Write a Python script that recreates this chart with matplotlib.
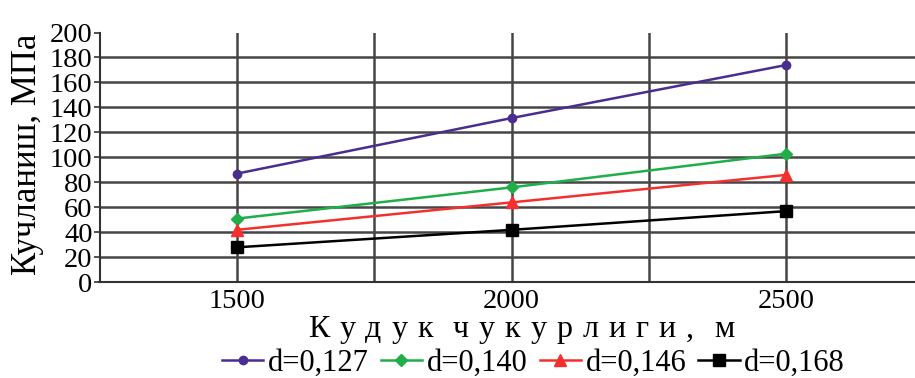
import matplotlib
matplotlib.use("Agg")
import matplotlib.pyplot as plt
from matplotlib.ticker import FixedLocator

# ---- data ----
depth = [1500, 2000, 2500]
d127 = [87, 131.5, 174]
d140 = [51, 76, 103]
d146 = [42, 64, 86]
d168 = [28, 42, 57]
series_labels = ["d=0,127", "d=0,140", "d=0,146", "d=0,168"]
xticks_major = [1500, 2000, 2500]
xticks_minor = [1750, 2250]
yticks = list(range(0, 201, 20))
xlabel = "Кудук чукурлиги, м"
ylabel = "Кучланиш, МПа"

W, H = 915, 378
SERIF = ["Liberation Serif", "DejaVu Serif"]
plt.rcParams["font.family"] = SERIF

fig = plt.figure(figsize=(W / 100, H / 100), dpi=100)
ax = fig.add_axes([99.5 / W, 1 - 282.3 / H, (915 - 99.5) / W, (282.3 - 32.5) / H])

ax.set_xlim(1250, 2734)
ax.set_ylim(0, 200)

gridc = "#454545"
ax.xaxis.set_major_locator(FixedLocator(xticks_major))
ax.xaxis.set_minor_locator(FixedLocator(xticks_minor))
ax.yaxis.set_major_locator(FixedLocator(yticks))
ax.grid(True, which="both", axis="x", color=gridc, lw=1.8)
ax.grid(True, which="major", axis="y", color=gridc, lw=1.8)
ax.set_axisbelow(True)
ylines = ax.yaxis.get_gridlines()
ylines[-1].set_visible(False)

ax.tick_params(axis="x", which="both", length=0, pad=5, labelsize=20.5)
ax.tick_params(axis="y", length=4, width=1.2, color="#333333", pad=1, labelsize=20.5)
ax.set_xticklabels([str(v) for v in xticks_major])
ax.set_yticklabels([str(v) for v in yticks])

for s in ["top", "right"]:
    ax.spines[s].set_visible(False)
for s in ["left", "bottom"]:
    ax.spines[s].set_color("#333333")
    ax.spines[s].set_linewidth(1.5)

styles = [
    (d127, "#4b2c8f", "o", 6.0),
    (d140, "#1fae4a", "D", 6.0),
    (d146, "#f4302e", "^", 9.0),
    (d168, "#000000", "s", 8.5),
]
handles = []
for (vals, c, m, ms), lab in zip(styles, series_labels):
    h, = ax.plot(depth, vals, color=c, lw=1.8, marker=m, ms=ms, label=lab, zorder=3, clip_on=False)
    handles.append(h)

leg = fig.legend(handles=handles, loc="center", bbox_to_anchor=(533.5 / W, 1 - 363 / H),
                 ncol=4, frameon=False, fontsize=22, handlelength=1.35, handletextpad=0.15,
                 columnspacing=0.4, borderpad=0, borderaxespad=0)

# y label
fig.text(27.5 / W, 1 - 154.5 / H, ylabel, rotation=90, ha="center", va="center", fontsize=25)

# x label with letter spacing
fig.canvas.draw()
r = fig.canvas.get_renderer()
fs = 23
track = 10.0
space_px = 0.0
base_y = 1 - 337 / H
widths = []
for ch in xlabel:
    if ch == " ":
        widths.append(None)
        continue
    t = fig.text(0, base_y, ch, fontsize=fs, va="baseline", ha="left")
    widths.append(t.get_window_extent(r).width)
    t.remove()
total = 0.0
for i, w in enumerate(widths):
    total += space_px if w is None else w
    if i < len(widths) - 1:
        total += track
x = 521 - total / 2
for ch, w in zip(xlabel, widths):
    if w is None:
        x += space_px + track
        continue
    fig.text(x / W, base_y, ch, fontsize=fs, va="baseline", ha="left")
    x += w + track

fig.savefig("out.png", dpi=100)
